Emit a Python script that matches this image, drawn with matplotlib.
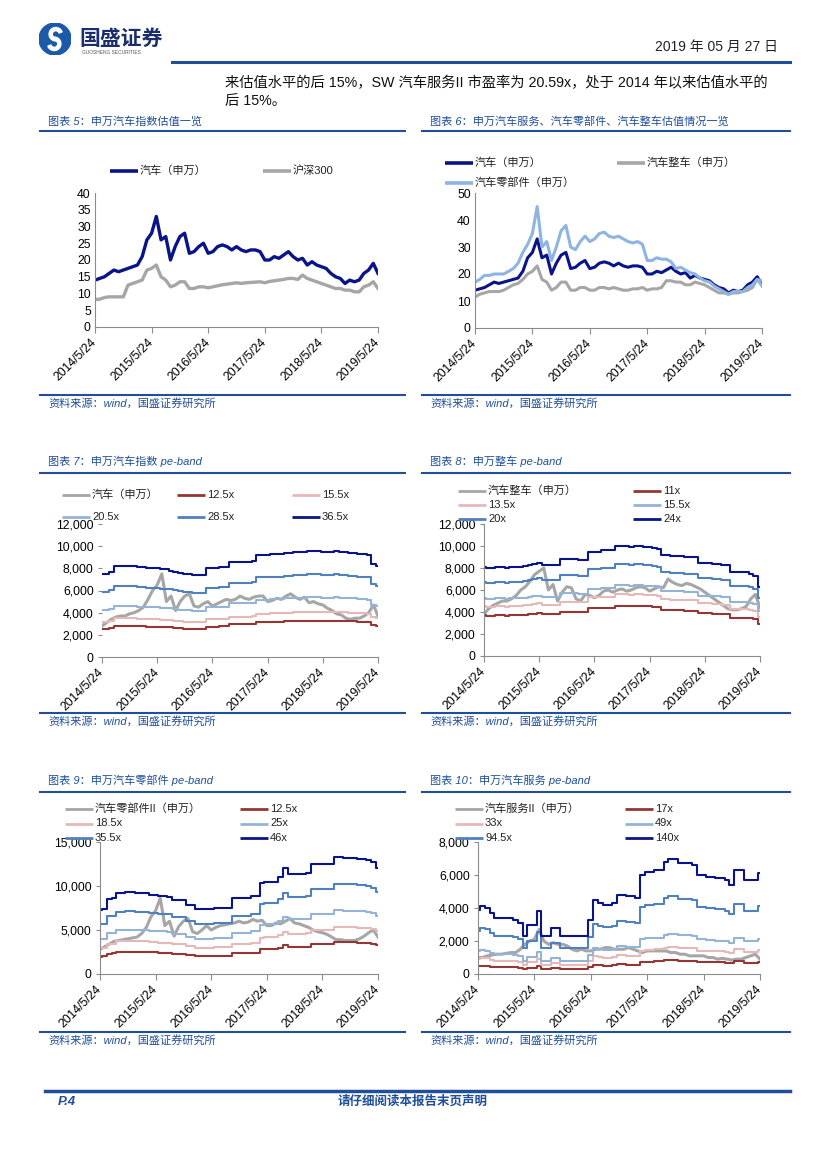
import numpy as np
import matplotlib.pyplot as plt
from matplotlib.lines import Line2D
from matplotlib.patches import Circle, Wedge

plt.rcParams['font.family'] = ['Liberation Sans', 'Noto Sans CJK SC', 'DejaVu Sans']

# ---- data: monthly readings, 2014/5 .. 2019/5 (61 points) ----
tick_labels = ['2014/5/24', '2015/5/24', '2016/5/24', '2017/5/24', '2018/5/24', '2019/5/24']

# fig 5 / 6 : PE (TTM)
auto_pe = [14, 14.5, 15, 16, 17, 16.5, 17, 17.5, 18, 18.5,
           21, 26, 28, 33, 26, 27, 20, 24, 27, 28,
           22, 22.5, 24, 25, 22, 22.5, 24, 24.5, 24, 23,
           24, 23, 22.5, 23, 23, 22.5, 20, 20, 21, 20.5,
           21.5, 22.5, 21, 20, 20.5, 18.5, 19.5, 18.5, 18, 17.5,
           16, 15, 14.5, 13, 14, 13.5, 14, 16, 17, 19, 16]
hs300_pe = [8.2, 8.3, 8.8, 9.0, 9.0, 9.0, 9.0, 12.5, 13.0, 13.5,
            14.0, 17.0, 17.5, 18.5, 15.0, 14.0, 12.0, 12.5, 13.5, 13.5,
            11.5, 11.5, 12.0, 12.0, 11.7, 12.0, 12.3, 12.6, 12.8, 13.0,
            13.2, 13.0, 13.2, 13.3, 13.4, 13.5, 13.2, 13.6, 13.8, 14.0,
            14.2, 14.5, 14.5, 14.2, 15.5, 14.5, 14.0, 13.5, 13.0, 12.5,
            12.0, 11.5, 11.5, 11.0, 11.0, 10.5, 10.5, 12.0, 12.5, 13.5, 11.5]
vehicle_pe = [11.5, 12.5, 13, 13.5, 13.5, 13.5, 14, 15, 16, 16.5,
              18, 20, 21, 23, 18, 17, 14, 15, 17, 17,
              14, 14, 15, 15, 14, 14, 15, 15, 14.5, 15,
              14.5, 14, 14, 14.5, 14.5, 15, 14, 14.5, 14.5, 15,
              17.5, 17.5, 17, 17, 16, 16, 17, 16.5, 16, 15,
              14, 13, 13, 12.5, 13, 13, 13.5, 14, 15, 18, 17.5]
parts_pe = [17, 18, 19.5, 19.5, 20, 20, 20, 21, 22, 24,
            28, 31, 35, 45, 30, 32, 25, 30, 36, 38,
            30, 29, 32, 34, 32, 33, 35, 35.5, 34, 33.5,
            34, 33, 32, 31.5, 32, 31, 25, 25, 26, 25.5,
            25.5, 24.5, 22, 22.5, 21.5, 20.5, 20, 18.5, 17.5, 17,
            15.5, 14.5, 13.5, 12.5, 13.5, 13.5, 13.5, 15, 16, 18, 15.5]

# fig 7 : 汽车 index and top band (36.5x)
auto_idx = [2800, 3100, 3400, 3600, 3700, 3700, 3900, 4000, 4200, 4500,
            5200, 6000, 6500, 7500, 5000, 5500, 4200, 5000, 5500, 5700,
            4600, 4500, 4800, 5000, 4600, 4800, 5000, 5200, 5100, 5200,
            5500, 5300, 5200, 5400, 5500, 5500, 5000, 5100, 5300, 5200,
            5500, 5700, 5400, 5200, 5400, 4900, 5000, 4800, 4700, 4400,
            4200, 3900, 3800, 3500, 3400, 3500, 3500, 3700, 4000, 4700, 3700]
auto_top = [7500, 7500, 7700, 8200, 8200, 8200, 8200, 8200, 8100, 8100,
            8000, 8000, 8000, 7900, 7900, 7800, 7700, 7600, 7500, 7500,
            7400, 7400, 7400, 8000, 8000, 8000, 8100, 8100, 8600, 8600,
            8600, 8600, 8600, 8700, 9200, 9200, 9200, 9300, 9300, 9300,
            9400, 9400, 9500, 9500, 9500, 9600, 9600, 9600, 9500, 9500,
            9500, 9600, 9500, 9500, 9400, 9400, 9300, 9300, 9200, 8400, 8200]
auto_mult = [12.5, 15.5, 20.5, 28.5, 36.5]

# fig 8 : 整车
veh_idx = [3800, 4300, 4600, 4800, 5000, 5000, 5200, 5500, 6000, 6300,
           6800, 7400, 7700, 8000, 6000, 6500, 5000, 5800, 6300, 6200,
           5200, 5000, 5600, 5500, 5300, 5500, 5900, 6000, 5800, 6000,
           6100, 5900, 6000, 6200, 6300, 6200, 5900, 6100, 6300, 6200,
           7000, 6700, 6500, 6400, 6600, 6500, 6300, 6100, 5800, 5500,
           5200, 4900, 4600, 4300, 4200, 4200, 4300, 4500, 5200, 5600, 4400]
veh_top = [8100, 8000, 8000, 8100, 8100, 8000, 8100, 8100, 8100, 8200,
           8300, 8400, 8500, 8300, 8300, 8300, 8300, 8800, 8800, 8800,
           8800, 8700, 8700, 9500, 9500, 9500, 9600, 9600, 9600, 10000,
           10000, 10000, 9900, 10000, 10000, 9900, 9900, 9800, 9700, 9200,
           9200, 9100, 9100, 9100, 9000, 9000, 9000, 8500, 8500, 8500,
           8400, 8400, 8300, 8300, 7600, 7600, 7600, 7600, 7500, 7300, 6300]
veh_mult = [11, 13.5, 15.5, 20, 24]

# fig 9 : 零部件
parts_idx = [2800, 3100, 3400, 3700, 3800, 3900, 4000, 4100, 4200, 4600,
             5300, 6500, 7200, 8600, 5500, 6000, 4300, 5400, 6000, 6300,
             4800, 4600, 5000, 5500, 5000, 5300, 5500, 5600, 5700, 5800,
             6000, 5800, 5900, 6200, 6000, 6100, 5500, 5500, 5800, 5700,
             6000, 6300, 5800, 5700, 5500, 5300, 5000, 4800, 4700, 4500,
             4200, 3900, 3900, 3800, 3800, 3800, 4000, 4300, 4700, 5000, 4200]
parts_top = [7300, 7400, 8500, 8600, 9200, 9200, 9300, 9300, 9200, 9200,
             9200, 9000, 9000, 8900, 8900, 8800, 8400, 8400, 8400, 7800,
             7800, 7400, 7400, 7400, 7400, 7500, 7500, 7500, 7500, 8600,
             8600, 8600, 8600, 8900, 8900, 10300, 10400, 10400, 10500, 11000,
             12000, 11400, 11400, 11400, 11400, 11500, 12500, 12500, 12500, 12500,
             12500, 13300, 13300, 13200, 13200, 13200, 13100, 13100, 12900, 12700, 12100]
parts_mult = [12.5, 18.5, 25, 35.5, 46]

# fig 10 : 汽车服务
serv_idx = [1000, 1000, 1100, 1150, 1200, 1200, 1250, 1300, 1300, 1500,
            1800, 2000, 2100, 2700, 2000, 1800, 1900, 1800, 1800, 1700,
            1500, 1400, 1500, 1400, 1400, 1500, 1500, 1600, 1600, 1500,
            1500, 1500, 1600, 1500, 1400, 1300, 1400, 1400, 1400, 1400,
            1400, 1300, 1300, 1200, 1200, 1100, 1100, 1100, 1100, 1000,
            1000, 900, 950, 900, 850, 900, 900, 1000, 1100, 1200, 900]
serv_top = [3900, 4100, 4000, 3700, 3400, 3400, 3400, 3400, 3300, 3100,
            2300, 3000, 3000, 3800, 2300, 2300, 2800, 2800, 2300, 2300,
            2300, 2300, 2300, 2300, 3300, 4500, 4300, 4200, 4200, 4300,
            4800, 4800, 4700, 4700, 4600, 6000, 6200, 6200, 6300, 6300,
            6800, 7000, 7000, 6700, 6700, 6700, 6600, 6000, 6000, 5900,
            5900, 5800, 5800, 5700, 5400, 6300, 6300, 5700, 5700, 5700, 6100]
serv_mult = [17, 33, 49, 94.5, 140]

NAVY = '#0A1489'
GRAY = '#A6A6A6'
BAND_COLORS = ['#943634', '#E6B9B8', '#95B3D7', '#4F81BD', NAVY]
LIGHT = '#8EB4E3'
BLUE_TXT = '#1F4E9A'

W, H = 827, 1169
fig = plt.figure(figsize=(W / 100, H / 100), dpi=100)


def px_ax(l, t, r, b):
    return fig.add_axes([l / W, 1 - b / H, (r - l) / W, (b - t) / H])


def ftxt(x, y, s, **kw):
    fig.text(x / W, 1 - y / H, s, **kw)


def hline(x0, x1, y, **kw):
    fig.add_artist(Line2D([x0 / W, x1 / W], [1 - y / H, 1 - y / H], **kw))


def leg(entries):
    # entries: (label, color, lw, x, y) in page pixels
    for lab, c, lw, x, y in entries:
        hline(x, x + 28, y, color=c, lw=lw, solid_capstyle='butt')
        ftxt(x + 30, y, lab, fontsize=8, va='center', color='#222222')


def setup(ax, ymax, step, comma=False, ytick_len=0):
    months = np.arange(61)
    ax.set_xlim(0, 60)
    ax.set_ylim(0, ymax)
    ax.set_yticks(np.arange(0, ymax + 1, step))
    if comma:
        ax.set_yticklabels(['{:,.0f}'.format(v) for v in np.arange(0, ymax + 1, step)])
    ax.set_xticks(months[::12])
    ax.set_xticklabels(tick_labels, rotation=45, ha='right', va='center',
                       rotation_mode='anchor')
    for s in ['top', 'right']:
        ax.spines[s].set_visible(False)
    for s in ['left', 'bottom']:
        ax.spines[s].set_color('#8C8C8C')
        ax.spines[s].set_linewidth(0.8)
    ax.tick_params(axis='y', length=ytick_len, labelsize=8.8, pad=3, color='#8C8C8C')
    ax.tick_params(axis='x', length=4, labelsize=8.8, pad=6, color='#8C8C8C')
    ax.patch.set_alpha(0)
    return months


def section(x0, x1, title, y_title, y_line, y_src):
    ftxt(x0 + 8, y_title, title, fontsize=8, color=BLUE_TXT, style='italic', va='center')
    hline(x0, x1, y_line, color='#1F4E9A', lw=1.5)
    hline(x0, x1, y_src, color='#1F4E9A', lw=1.5)
    ftxt(x0 + 8, y_src + 8, '资料来源：wind，国盛证券研究所', fontsize=8,
         color=BLUE_TXT, style='italic', va='center')


def band_chart(ax, idx, top, mult, ymax, step):
    m = setup(ax, ymax, step, comma=True, ytick_len=3)
    ax.plot(m, idx, color=GRAY, lw=2.2)
    top = np.array(top, dtype=float)
    for k, c in zip(mult, BAND_COLORS):
        ax.plot(m, top * k / mult[-1], color=c, lw=1.5, drawstyle='steps-mid')


# ---- header ----
lax = px_ax(39, 23, 71, 55)
lax.set_xlim(-1, 1)
lax.set_ylim(-1, 1)
lax.set_aspect('equal')
lax.axis('off')
lax.add_patch(Circle((0, 0), 1, color='#1C5AA8'))
lax.add_patch(Wedge((0.05, 0.3), 0.42, 20, 270, width=0.2, color='white'))
lax.add_patch(Wedge((-0.05, -0.3), 0.42, 200, 90, width=0.2, color='white'))
ftxt(79, 39, '国盛证券', fontsize=15, weight='bold', color='#1A2E6E', va='center')
ftxt(82, 53, 'GUOSHENG SECURITIES', fontsize=3.5, color='#555555', va='center')
ftxt(778, 47, '2019 年 05 月 27 日', fontsize=10, ha='right', va='center', color='#222222')
hline(172, 790, 62, color='#1F4E9A', lw=2.2)

ftxt(225, 83, '来估值水平的后 15%，SW 汽车服务II 市盈率为 20.59x，处于 2014 年以来估值水平的',
     fontsize=10.3, va='center', color='#111111')
ftxt(225, 101, '后 15%。', fontsize=10.3, va='center', color='#111111')

# ---- fig 5 ----
section(40, 405, '图表 5：申万汽车指数估值一览', 121, 131, 395)
ax5 = px_ax(95, 193, 378, 327)
m = setup(ax5, 40, 5)
ax5.plot(m, auto_pe, color=NAVY, lw=2.4)
ax5.plot(m, hs300_pe, color=GRAY, lw=2.4)
leg([('汽车（申万）', NAVY, 2.6, 110, 171), ('沪深300', GRAY, 2.6, 263, 171)])

# ---- fig 6 ----
section(422, 790, '图表 6：申万汽车服务、汽车零部件、汽车整车估值情况一览', 121, 131, 395)
ax6 = px_ax(475, 193, 762, 328)
m = setup(ax6, 50, 10)
ax6.plot(m, auto_pe, color=NAVY, lw=2.2)
ax6.plot(m, vehicle_pe, color=GRAY, lw=2.2)
ax6.plot(m, parts_pe, color=LIGHT, lw=2.2)
leg([('汽车（申万）', NAVY, 2.6, 445, 163), ('汽车整车（申万）', GRAY, 2.6, 617, 163),
     ('汽车零部件（申万）', LIGHT, 2.6, 445, 183)])

# ---- fig 7 ----
section(40, 405, '图表 7：申万汽车指数 pe-band', 461, 473, 713)
ax7 = px_ax(102, 524, 378, 657)
band_chart(ax7, auto_idx, auto_top, auto_mult, 12000, 2000)
ax7.spines['left'].set_visible(False)
lab7 = ['汽车（申万）'] + ['{:g}x'.format(k) for k in auto_mult]
col7 = [GRAY] + BAND_COLORS
xs7 = [62, 177, 292]
leg([(lab7[i], col7[i], 2.0, xs7[i % 3], 495 + 22 * (i // 3)) for i in range(6)])

# ---- fig 8 ----
section(422, 790, '图表 8：申万整车 pe-band', 461, 473, 713)
ax8 = px_ax(484, 524, 760, 656)
band_chart(ax8, veh_idx, veh_top, veh_mult, 12000, 2000)
lab8 = ['汽车整车（申万）'] + ['{:g}x'.format(k) for k in veh_mult]
col8 = [GRAY] + BAND_COLORS
leg([(lab8[i], col8[i], 2.0, [458, 633][i % 2], 491 + 14 * (i // 2)) for i in range(6)])

# ---- fig 9 ----
section(40, 405, '图表 9：申万汽车零部件 pe-band', 780, 792, 1032)
ax9 = px_ax(100, 842, 378, 974)
band_chart(ax9, parts_idx, parts_top, parts_mult, 15000, 5000)
lab9 = ['汽车零部件II（申万）'] + ['{:g}x'.format(k) for k in parts_mult]
leg([(lab9[i], col8[i], 2.0, [65, 240][i % 2], 809 + 14.5 * (i // 2)) for i in range(6)])

# ---- fig 10 ----
section(422, 790, '图表 10：申万汽车服务 pe-band', 780, 792, 1032)
ax10 = px_ax(478, 842, 760, 974)
band_chart(ax10, serv_idx, serv_top, serv_mult, 8000, 2000)
lab10 = ['汽车服务II（申万）'] + ['{:g}x'.format(k) for k in serv_mult]
leg([(lab10[i], col8[i], 2.0, [455, 625][i % 2], 809 + 14.5 * (i // 2)) for i in range(6)])

# ---- footer ----
hline(45, 790, 1091, color='#1F4E9A', lw=2.5)
ftxt(58, 1102, 'P.4', fontsize=9.5, weight='bold', style='italic', color='#1F4E9A', va='center')
ftxt(413, 1102, '请仔细阅读本报告末页声明', fontsize=9, weight='bold', color='#1F4E9A',
     ha='center', va='center')

fig.savefig('out.png', dpi=100)
